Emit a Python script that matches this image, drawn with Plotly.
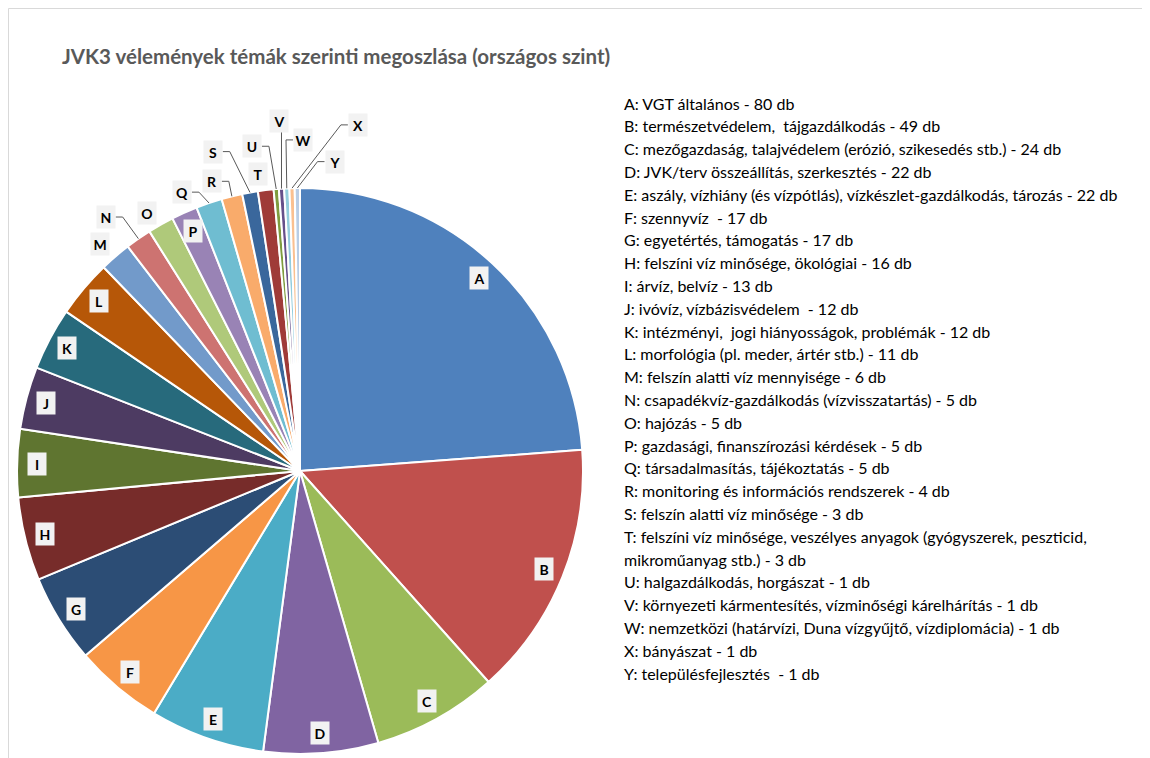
"""Pie chart of JVK3 opinions by topic (national level)."""

import math
import plotly.graph_objects as go

letters = list("ABCDEFGHIJKLMNOPQRSTUVWXY")
topics = [
    "VGT általános",
    "természetvédelem,  tájgazdálkodás",
    "mezőgazdaság, talajvédelem (erózió, szikesedés stb.)",
    "JVK/terv összeállítás, szerkesztés",
    "aszály, vízhiány (és vízpótlás), vízkészlet-gazdálkodás, tározás",
    "szennyvíz ",
    "egyetértés, támogatás",
    "felszíni víz minősége, ökológiai",
    "árvíz, belvíz",
    "ivóvíz, vízbázisvédelem ",
    "intézményi,  jogi hiányosságok, problémák",
    "morfológia (pl. meder, ártér stb.)",
    "felszín alatti víz mennyisége",
    "csapadékvíz-gazdálkodás (vízvisszatartás)",
    "hajózás",
    "gazdasági, finanszírozási kérdések",
    "társadalmasítás, tájékoztatás",
    "monitoring és információs rendszerek",
    "felszín alatti víz minősége",
    "felszíni víz minősége, veszélyes anyagok (gyógyszerek, peszticid,<br>mikroműanyag stb.)",
    "halgazdálkodás, horgászat",
    "környezeti kármentesítés, vízminőségi kárelhárítás",
    "nemzetközi (határvízi, Duna vízgyűjtő, vízdiplomácia)",
    "bányászat",
    "településfejlesztés ",
]
counts = [80, 49, 24, 22, 22, 17, 17, 16, 13, 12, 12, 11, 6, 5, 5, 5, 5, 4, 3, 3, 1, 1, 1, 1, 1]

colors = [
    "#4F81BD", "#C0504D", "#9BBB59", "#8064A2", "#4BACC6", "#F79646",
    "#2C4D75", "#772C2A", "#5F7530", "#4D3B62", "#276A7C", "#B65708",
    "#729ACA", "#CD7371", "#AFC97A", "#9983B5", "#6FBDD1", "#F9AB6B",
    "#3A679C", "#9F3B38", "#7F9C3F", "#66508A", "#93CDDD", "#FAC090",
    "#B9CDE5",
]

# figure geometry (pixels; the page adds an 8px body margin)
W, H = 1150, 758
cx, cy, R = 292, 463, 283

# outside label placement: letter -> (radius factor, angle shift in degrees, leader line)
outside = {
    "M": (1.07, -0.6, False),
    "N": (1.13, -2.6, True),
    "O": (1.06, -1.2, False),
    "Q": (1.07, -4.2, True),
    "R": (1.07, -3.0, True),
    "S": (1.17, -5.1, True),
    "T": (1.06, -1.0, False),
    "U": (1.16, -3.6, True),
    "V": (1.24, 0.4, True),
    "W": (1.17, 3.2, True),
    "X": (1.24, 11.1, True),
    "Y": (1.10, 6.9, True),
}


def px(x):
    return x / W


def py(y):
    return 1 - y / H


fig = go.Figure()
fig.add_trace(go.Pie(
    labels=letters,
    values=counts,
    sort=False,
    direction="clockwise",
    rotation=0,
    textinfo="none",
    hoverinfo="label+value",
    marker=dict(colors=colors, line=dict(color="white", width=2)),
    domain=dict(x=[px(cx - R), px(cx + R)], y=[py(cy + R), py(cy - R)]),
    showlegend=False,
))

annotations = []
shapes = [dict(type="rect", xref="paper", yref="paper",
               x0=px(0.5), x1=px(W + 20), y0=py(H + 20), y1=py(0.5),
               line=dict(color="#D9D9D9", width=1), layer="below")]

total = sum(counts)
cum = 0
for letter, value in zip(letters, counts):
    mid = (cum + value / 2) / total * 360
    cum += value
    rf, shift, leader = outside.get(letter, (0.93, 0.0, False))
    a = math.radians(mid + shift)
    lx = cx + rf * R * math.sin(a)
    ly = cy - rf * R * math.cos(a)
    annotations.append(dict(
        x=px(lx), y=py(ly), xref="paper", yref="paper",
        xanchor="center", yanchor="middle", text="<b>" + letter + "</b>",
        showarrow=False, font=dict(family="Lato", size=14, color="#000000"),
        bgcolor="#F2F2F2", width=18, height=22, borderpad=0,
    ))
    if leader:
        m = math.radians(mid)
        ex = cx + R * math.sin(m)
        ey = cy - R * math.cos(m)
        if abs(ex - lx) < 10:
            pts = [(ex, ly + 11), (ex, ey)]
        else:
            side = 1 if ex > lx else -1
            pts = [(lx + side * 10, ly), (lx + side * 17, ly), (ex, ey)]
        path = "M " + " L ".join(f"{px(x):.5f},{py(y):.5f}" for x, y in pts)
        shapes.append(dict(type="path", xref="paper", yref="paper", path=path,
                           line=dict(color="#595959", width=1)))

# text list on the right
line_no = 0
for letter, topic, value in zip(letters, topics, counts):
    entry = f"{letter}: {topic} - {value} db"
    for part in entry.split("<br>"):
        annotations.append(dict(
            x=px(614), y=py(95 + line_no * 22.8), xref="paper", yref="paper",
            xanchor="left", yanchor="middle", showarrow=False, text=part,
            font=dict(family="Lato", size=16, color="#000000"),
        ))
        line_no += 1

fig.update_layout(
    width=W, height=H,
    margin=dict(l=0, r=0, t=0, b=0),
    paper_bgcolor="white",
    title=dict(text="<b>JVK3 vélemények témák szerinti megoszlása (országos szint)</b>",
               x=px(54), xanchor="left", y=py(49), yanchor="middle",
               font=dict(family="Lato", size=20.5, color="#595959")),
    annotations=annotations,
    shapes=shapes,
)

fig.write_html("out.html")
